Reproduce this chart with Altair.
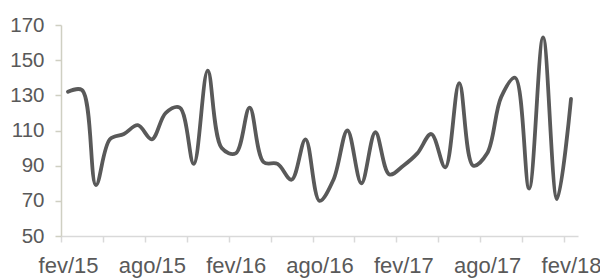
import json
import altair as alt
import pandas as pd

months = [
    "fev/15", "mar/15", "abr/15", "mai/15", "jun/15", "jul/15", "ago/15", "set/15", "out/15", "nov/15", "dez/15",
    "jan/16", "fev/16", "mar/16", "abr/16", "mai/16", "jun/16", "jul/16", "ago/16", "set/16", "out/16", "nov/16", "dez/16",
    "jan/17", "fev/17", "mar/17", "abr/17", "mai/17", "jun/17", "jul/17", "ago/17", "set/17", "out/17", "nov/17", "dez/17",
    "jan/18", "fev/18",
]
values = [
    132, 133, 79, 105, 108, 113, 105, 120, 123, 91, 144,
    100, 97, 123, 92, 91, 82, 105, 70, 82, 110, 80,
    109, 85, 90, 97, 108, 89, 137, 90, 97, 129, 140,
    77, 163, 71, 128,
]
y_ticks = [50, 70, 90, 110, 130, 150, 170]

df = pd.DataFrame({"i": list(range(len(values))), "mes": months, "valor": values})

tick_vals = [k - 0.5 for k in range(0, len(months), 3)]
label_js = json.dumps(months)
label_expr = f"(datum.value + 0.5) % 6 == 0 ? {label_js}[datum.value + 0.5] : ''"

font = "Liberation Sans"
grey = "#595959"

chart = alt.Chart(df).mark_line(
    interpolate="catmull-rom", color=grey, strokeWidth=3.8, strokeCap="round"
).encode(
    x=alt.X(
        "i:Q",
        scale=alt.Scale(domain=[-0.5, len(months) - 0.5], nice=False, zero=False),
        axis=alt.Axis(
            values=tick_vals,
            labelExpr=label_expr,
            title=None,
            grid=False,
            labelFlush=False,
            labelOverlap=False,
            labelOffset=7,
            labelFont=font,
            labelFontSize=22,
            labelColor=grey,
            labelPadding=13,
            tickSize=6,
            tickColor="#D9D9D9",
            domainColor="#D9D9D9",
            tickWidth=1.5,
            domainWidth=1.5,
        ),
    ),
    y=alt.Y(
        "valor:Q",
        scale=alt.Scale(domain=[50, 170], nice=False, zero=False),
        axis=alt.Axis(
            values=y_ticks,
            title=None,
            grid=False,
            labelFont=font,
            labelFontSize=20.5,
            labelColor=grey,
            labelPadding=11,
            tickSize=6,
            tickColor="#CFCFC2",
            domainColor="#CFCFC2",
            tickWidth=1.5,
            domainWidth=1.5,
        ),
    ),
).properties(
    width=517,
    height=211,
    autosize=alt.AutoSizeParams(type="none"),
    padding={"left": 53, "top": 17, "right": 22, "bottom": 44},
).configure_view(stroke=None)

chart.save("out.html", embed_options={"renderer": "svg", "actions": False})
